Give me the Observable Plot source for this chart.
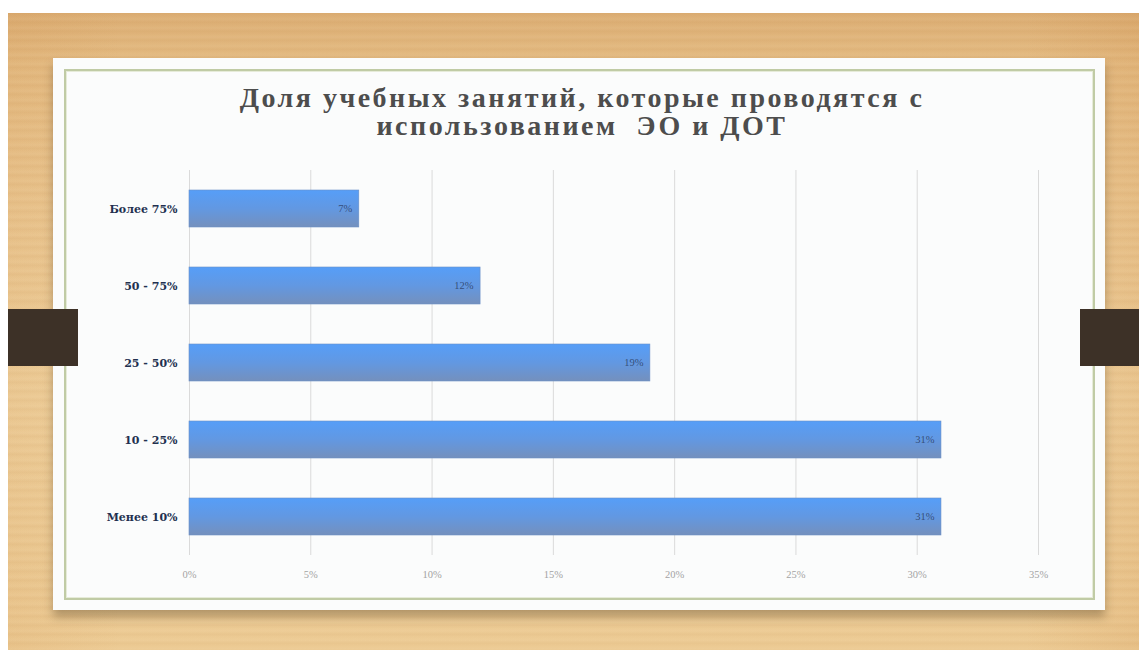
<!DOCTYPE html>
<html>
<head>
<meta charset="utf-8">
<script src="https://cdn.jsdelivr.net/npm/d3@7"></script>
<script src="https://cdn.jsdelivr.net/npm/@observablehq/plot@0.6"></script>
<style>
  html, body { margin: 0; padding: 0; background: #ffffff; }
  #page { position: relative; width: 1139px; height: 650px; overflow: hidden; background: #ffffff; }
  #wood { position: absolute; left: 8px; top: 13px; right: 0; bottom: 0;
    background:
      repeating-linear-gradient(180deg, rgba(160,100,40,0.05) 0px, rgba(160,100,40,0.0) 3px, rgba(255,240,210,0.06) 6px, rgba(160,100,40,0.04) 9px),
      linear-gradient(90deg, rgba(200,130,60,0.10) 0%, rgba(0,0,0,0) 10%, rgba(0,0,0,0) 90%, rgba(200,130,60,0.15) 100%),
      linear-gradient(180deg, #dcae74 0%, #e4bb82 8%, #eac690 30%, #eecf9b 60%, #ecca93 100%);
  }
  .tab { position: absolute; top: 309px; height: 57px; background: #3d3127; }
  #card { position: absolute; left: 53px; top: 58px; width: 1052px; height: 552px; background: #fbfcfc;
    box-shadow: 0 7px 9px rgba(70,50,20,0.35); }
  #frame { position: absolute; left: 64px; top: 69px; width: 1031px; height: 531px; box-sizing: border-box;
    border: 2px solid #c0cba5; box-shadow: inset 0 0 0 1px #e6ebd9; }
  #title { position: absolute; left: 63px; width: 1038px; top: 84px; text-align: center;
    font-family: "Liberation Serif", serif; font-weight: bold; font-size: 28px; line-height: 28px;
    letter-spacing: 2.5px; color: #4d4d4d; }
  #chart { position: absolute; left: 63px; top: 165px; }
</style>
</head>
<body>
<div id="page">
  <div id="wood"></div>
  <div id="card"></div>
  <div id="frame"></div>
  <div class="tab" style="left:8px;width:70px;"></div>
  <div class="tab" style="left:1080px;width:59px;"></div>
  <div id="title">Доля учебных занятий, которые проводятся с<br>использованием&nbsp; ЭО и ДОТ</div>
  <div id="chart"></div>
</div>
<script>
const categories = ["Более 75%", "50 - 75%", "25 - 50%", "10 - 25%", "Менее 10%"];
const shares = [0.07, 0.12, 0.19, 0.31, 0.31];
const valueLabels = ["7%", "12%", "19%", "31%", "31%"];
const xTicks = [0, 0.05, 0.10, 0.15, 0.20, 0.25, 0.30, 0.35];

const rows = categories.map((c, i) => ({category: c, share: shares[i], label: valueLabels[i]}));

const chart = Plot.plot({
  width: 1039,
  height: 430,
  marginLeft: 126,
  marginRight: 64,
  marginTop: 5,
  marginBottom: 40,
  style: {background: "transparent", fontFamily: "Liberation Serif, serif"},
  x: {domain: [0, 0.35], ticks: xTicks, grid: false, label: null},
  y: {domain: categories, paddingInner: 0.52, paddingOuter: 0.26, label: null},
  marks: [
    Plot.gridX(xTicks, {stroke: "#dadada", strokeOpacity: 1, strokeWidth: 1}),
    Plot.axisX({ticks: xTicks, tickSize: 0, tickPadding: 15, tickFormat: d => Math.round(d * 100) + "%",
      fontSize: 10.5, fill: "#a3a3a3", fontFamily: "Liberation Serif, serif", label: null}),
    Plot.axisY({tickSize: 0, tickPadding: 12, fontSize: 11, fontWeight: "bold", fill: "#22304f",
      fontFamily: "DejaVu Serif, serif", label: null}),
    Plot.barX(rows, {x: "share", y: "category", fill: "url(#barGrad)", stroke: "#6b8fc6", strokeWidth: 0.6}),
    Plot.text(rows, {x: "share", y: "category", text: "label", textAnchor: "end", dx: -7,
      fill: "#2d3f66", fillOpacity: 0.85, fontSize: 10.5, fontFamily: "Liberation Serif, serif"})
  ]
});

const ns = "http://www.w3.org/2000/svg";
const defs = document.createElementNS(ns, "defs");
const grad = document.createElementNS(ns, "linearGradient");
grad.setAttribute("id", "barGrad");
grad.setAttribute("x1", "0"); grad.setAttribute("y1", "0");
grad.setAttribute("x2", "0"); grad.setAttribute("y2", "1");
[["0", "#569ef8"], ["0.5", "#6298e2"], ["1", "#7490bd"]].forEach(([o, c]) => {
  const s = document.createElementNS(ns, "stop");
  s.setAttribute("offset", o); s.setAttribute("stop-color", c);
  grad.appendChild(s);
});
defs.appendChild(grad);
chart.insertBefore(defs, chart.firstChild);

document.getElementById("chart").appendChild(chart);
</script>
</body>
</html>
